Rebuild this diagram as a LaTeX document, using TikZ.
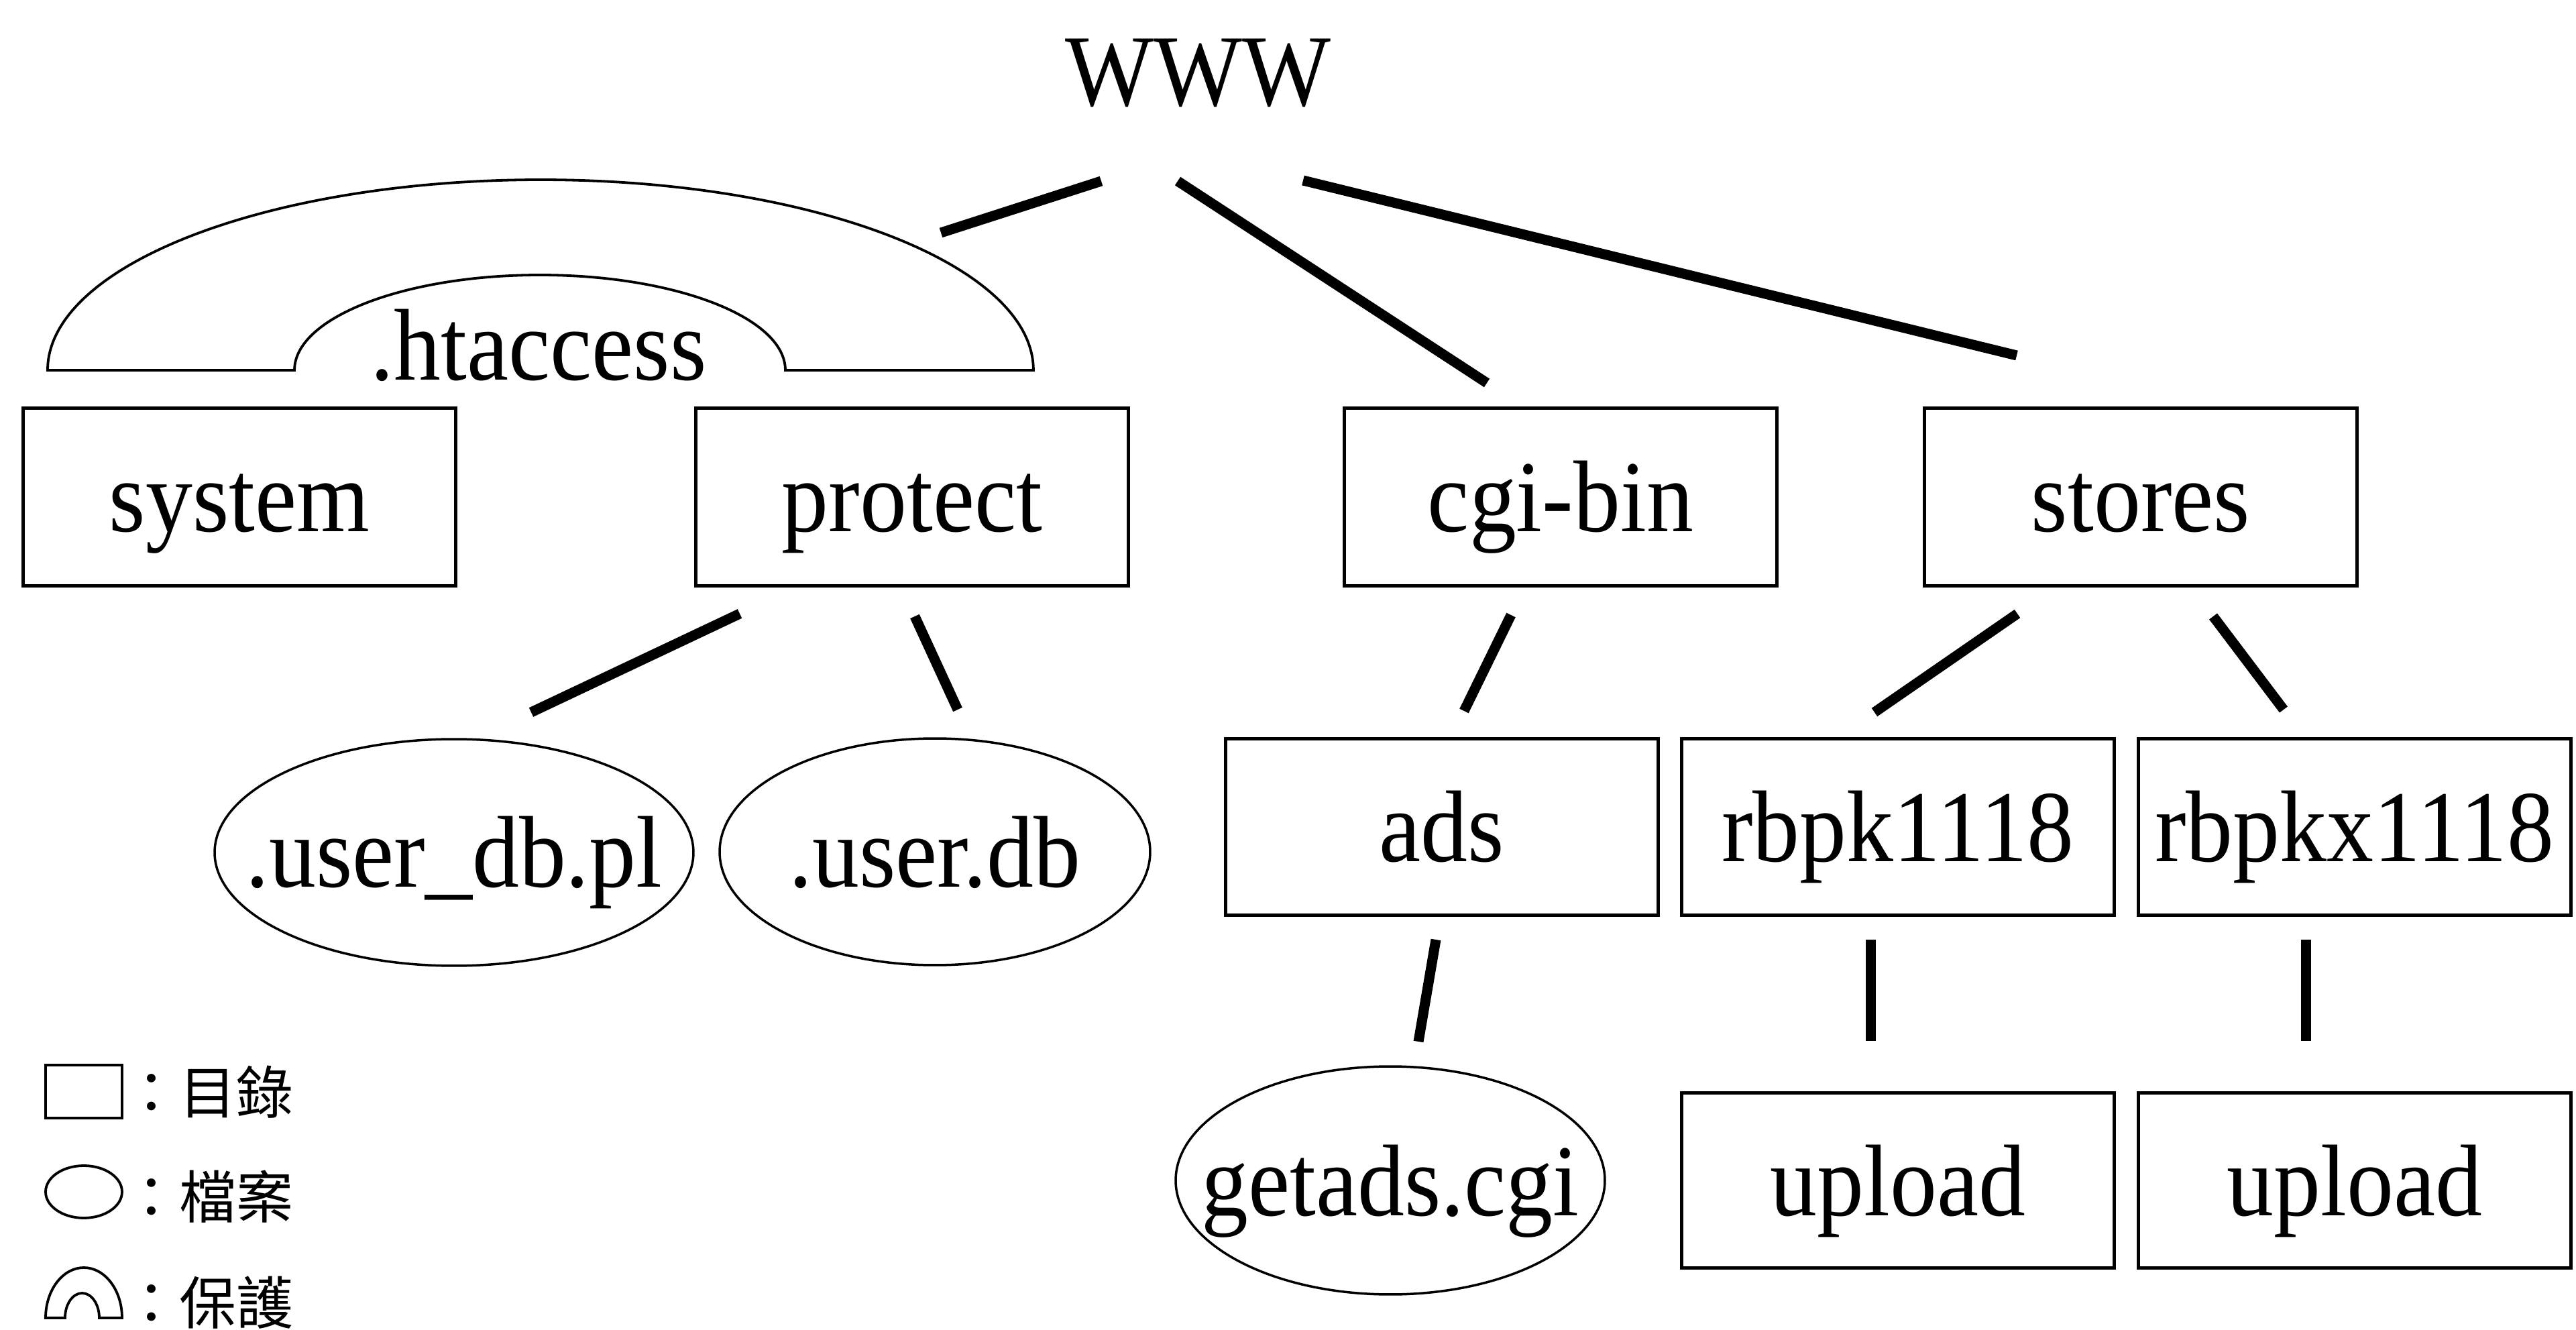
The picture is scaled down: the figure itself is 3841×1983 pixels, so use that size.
\documentclass[tikz,border=0pt]{standalone}
\usepackage{fontspec}
\setmainfont{Liberation Serif}[FakeStretch=0.92]
\newfontfamily\cjk{Noto Sans CJK TC}
\usetikzlibrary{shapes.geometric}
\begin{document}
\begin{tikzpicture}[x=0.1pt,y=-0.1pt,
  lbl/.style={inner sep=0pt, text height=12pt, text depth=1.6pt, font=\fontsize{15.2pt}{16pt}\selectfont},
  dirbox/.style={lbl, draw, line width=0.5pt, rectangle, minimum width=64.5pt, minimum height=26.6pt},
  filell/.style={draw, ellipse, line width=0.35pt, inner sep=0pt},
  conn/.style={line width=1.5pt},
  thinline/.style={line width=0.38pt},
  cjkl/.style={inner sep=0pt, anchor=base west, font=\cjk\fontsize{8.5pt}{9pt}\selectfont},
]
\useasboundingbox (0,0) rectangle (3841,1983);
\clip (0,0) rectangle (3841,1983);

% top label
\node[lbl] (www) at (1786,106) {WWW};

% protection arch with .htaccess
\draw[thinline] (71,552) arc[start angle=180, end angle=0, x radius=73.5pt, y radius=28.4pt]
  -- (1171,552) arc[start angle=0, end angle=180, x radius=36.6pt, y radius=14.2pt] -- cycle;
\node[lbl] (hta) at (803,515) {.htaccess};

% first row directories
\node[dirbox] (system)  at (357,741)  {system};
\node[dirbox] (protect) at (1360,741) {protect};
\node[dirbox] (cgibin)  at (2327,741) {cgi-bin};
\node[dirbox] (stores)  at (3192,741) {stores};

% second row
\node[filell, minimum width=71.4pt, minimum height=33.8pt] (udb) at (677,1271) {};
\node[lbl] (udbt) at (udb.center) {.user\_db.pl};
\node[filell, minimum width=64.2pt, minimum height=33.8pt] (userdb) at (1394,1270) {};
\node[lbl] (userdbt) at (userdb.center) {.user.db};
\node[dirbox, minimum height=26.4pt] (ads)   at (2150,1233) {ads};
\node[dirbox, minimum height=26.4pt] (rbpk)  at (2830,1233) {rbpk1118};
\node[dirbox, minimum height=26.4pt] (rbpkx) at (3511,1233) {rbpkx1118};

% third row
\node[filell, minimum width=64pt, minimum height=34pt] (getads) at (2073,1760) {};
\node[lbl] (getadst) at (getads.center) {getads.cgi};
\node[dirbox, minimum height=26.2pt] (up1) at (2830,1760) {upload};
\node[dirbox, minimum height=26.2pt] (up2) at (3511,1760) {upload};

% connectors
\draw[conn] ([shift={(-144,164)}]www.center) -- ([shift={(600,-168)}]hta.center);
\draw[conn] ([shift={(-30,164)}]www.center) -- ([shift={(-110,-170)}]cgibin.center);
\draw[conn] ([shift={(157,163)}]www.center) -- ([shift={(-185,-211)}]stores.center);
\draw[conn] ([shift={(-257,174)}]protect.center) -- ([shift={(115,-209)}]udb.center);
\draw[conn] ([shift={(4,178)}]protect.center) -- ([shift={(34,-212)}]userdb.center);
\draw[conn] ([shift={(-74,176)}]cgibin.center) -- ([shift={(33,-173)}]ads.center);
\draw[conn] ([shift={(-184,174)}]stores.center) -- ([shift={(-35,-171)}]rbpk.center);
\draw[conn] ([shift={(108,178)}]stores.center) -- ([shift={(-106,-175)}]rbpkx.center);
\draw[conn] ([shift={(-9,168)}]ads.center) -- ([shift={(42,-207)}]getads.center);
\draw[conn] ([shift={(-41,168)}]rbpk.center) -- ([shift={(-41,-208)}]up1.center);
\draw[conn] ([shift={(-73,168)}]rbpkx.center) -- ([shift={(-73,-208)}]up2.center);

% legend
\draw[line width=0.45pt] (68,1588) rectangle (182,1667);
\node[cjkl] (lg1) at (181,1660) {：目錄};
\draw[thinline] (125,1777) ellipse [x radius=5.7pt, y radius=3.9pt];
\node[cjkl] (lg2) at (181,1816) {：檔案};
\draw[thinline] (68,1965) arc[start angle=180, end angle=0, x radius=5.7pt, y radius=7.5pt]
  -- (148,1965) arc[start angle=0, end angle=180, x radius=2.55pt, y radius=3.7pt] -- cycle;
\node[cjkl] (lg3) at (181,1974) {：保護};
\end{tikzpicture}
\end{document}
